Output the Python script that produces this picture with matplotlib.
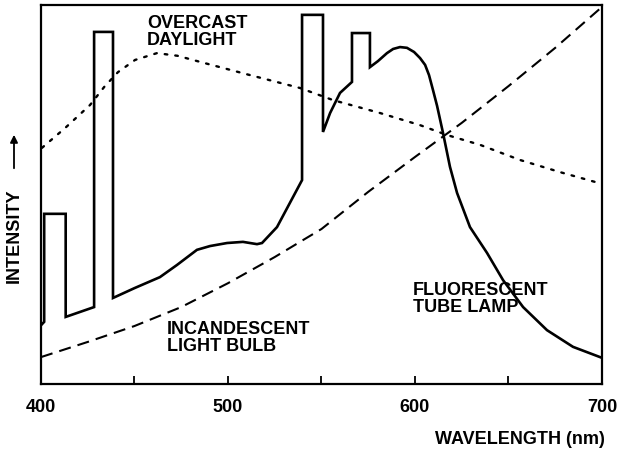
import matplotlib.pyplot as plt
from matplotlib.patches import FancyArrowPatch
from matplotlib.ticker import MultipleLocator, FixedLocator

plt.rcParams['font.family'] = ['Liberation Sans', 'DejaVu Sans']
plt.rcParams['font.weight'] = 'bold'

# Relative spectral intensity (0-100, arbitrary units) against wavelength in nm

# Incandescent light bulb
bulb_wl = [400, 425, 450, 475, 500, 525, 550, 575, 600, 625, 650, 675, 700]
bulb_int = [7.1, 11.1, 15.3, 20.3, 26.6, 33.5, 40.9, 50.7, 59.9, 68.9, 78.6, 88.7, 99.5]

# Overcast daylight
day_wl = [400.5, 412.8, 426.2, 434.0, 441.2, 450.3, 462.0, 473.0, 485.0, 511.8,
          538.5, 556.2, 581.3, 602.7, 617.1, 634.8, 656.2, 677.6, 700]
day_int = [62.3, 67.5, 73.6, 78.5, 82.3, 85.5, 87.3, 86.6, 85.0, 81.5,
           78.1, 74.9, 71.5, 68.3, 65.7, 63.1, 59.1, 55.9, 52.8]

# Fluorescent tube lamp (mercury lines show as the narrow spikes)
lamp_wl = [400, 401.7, 401.7, 413.2, 413.2, 428.4, 428.4, 438.5, 438.5,
           450.0, 463.6, 472.7, 483.4, 490.4, 499.5, 508.0, 515.5, 518.2, 526.2,
           539.6, 539.6, 550.8, 550.8, 554.6, 559.9, 566.3, 566.3, 575.9, 575.9,
           580.2, 585.0, 588.3, 592.0, 595.7, 599.5, 602.7, 605.4, 607.5, 609.6,
           611.8, 615.0, 618.7, 622.5, 629.4, 638.5, 647.1, 657.8, 670.6, 684.5,
           700]
lamp_int = [15.5, 16.4, 44.9, 44.9, 17.7, 20.3, 92.9, 92.9, 22.7,
            25.3, 28.2, 31.4, 35.4, 36.4, 37.2, 37.5, 36.9, 37.2, 41.4,
            53.8, 97.4, 97.4, 66.5, 71.5, 76.8, 79.7, 92.6, 92.6, 83.6,
            85.2, 87.3, 88.4, 88.9, 88.7, 87.6, 86.0, 84.2, 81.5, 77.6,
            73.4, 66.2, 57.3, 50.4, 41.4, 34.6, 27.4, 20.3, 14.2, 9.8,
            6.9]

x_ticks = [400, 500, 600, 700]

fig = plt.figure(figsize=(6.23, 4.55), dpi=100)
ax = fig.add_axes([41 / 623, 1 - 384 / 455, 561 / 623, 379 / 455])

ax.plot(day_wl, day_int, color='black', lw=1.7, linestyle=(0, (1.1, 3.4)),
        dash_capstyle='round')
ax.plot(bulb_wl, bulb_int, color='black', lw=1.5, linestyle=(0, (5.8, 3.4)))
ax.plot(lamp_wl, lamp_int, color='black', lw=1.9, solid_joinstyle='miter')

ax.set_xlim(400, 700)
ax.set_ylim(0, 100)
ax.xaxis.set_major_locator(FixedLocator(x_ticks))
ax.xaxis.set_minor_locator(MultipleLocator(50))
ax.tick_params(axis='x', which='both', direction='in', length=6, width=1.3,
               pad=11, labelsize=13)
ax.tick_params(axis='x', which='minor', labelbottom=False)
ax.set_yticks([])
for s in ax.spines.values():
    s.set_linewidth(1.6)

txt = dict(fontsize=13, fontweight='bold', color='black', va='top', ha='left',
           linespacing=1.0)
ax.text(456.7, 97.4, 'OVERCAST\nDAYLIGHT', **txt)
ax.text(467.4, 16.6, 'INCANDESCENT\nLIGHT BULB', **txt)
ax.text(599.0, 26.8, 'FLUORESCENT\nTUBE LAMP', **txt)

fig.text(605 / 623, 1 - 440 / 455, 'WAVELENGTH (nm)', fontsize=13,
         fontweight='bold', ha='right', va='center')
fig.text(14 / 623, 1 - 236 / 455, 'INTENSITY', fontsize=13, fontweight='bold',
         rotation=90, ha='center', va='center')
fig.add_artist(FancyArrowPatch(
    (14 / 623, 1 - 171 / 455), (14 / 623, 1 - 132 / 455),
    transform=fig.transFigure, arrowstyle='-|>', mutation_scale=11,
    color='black', lw=1.3))

fig.savefig('out.png', dpi=100)
